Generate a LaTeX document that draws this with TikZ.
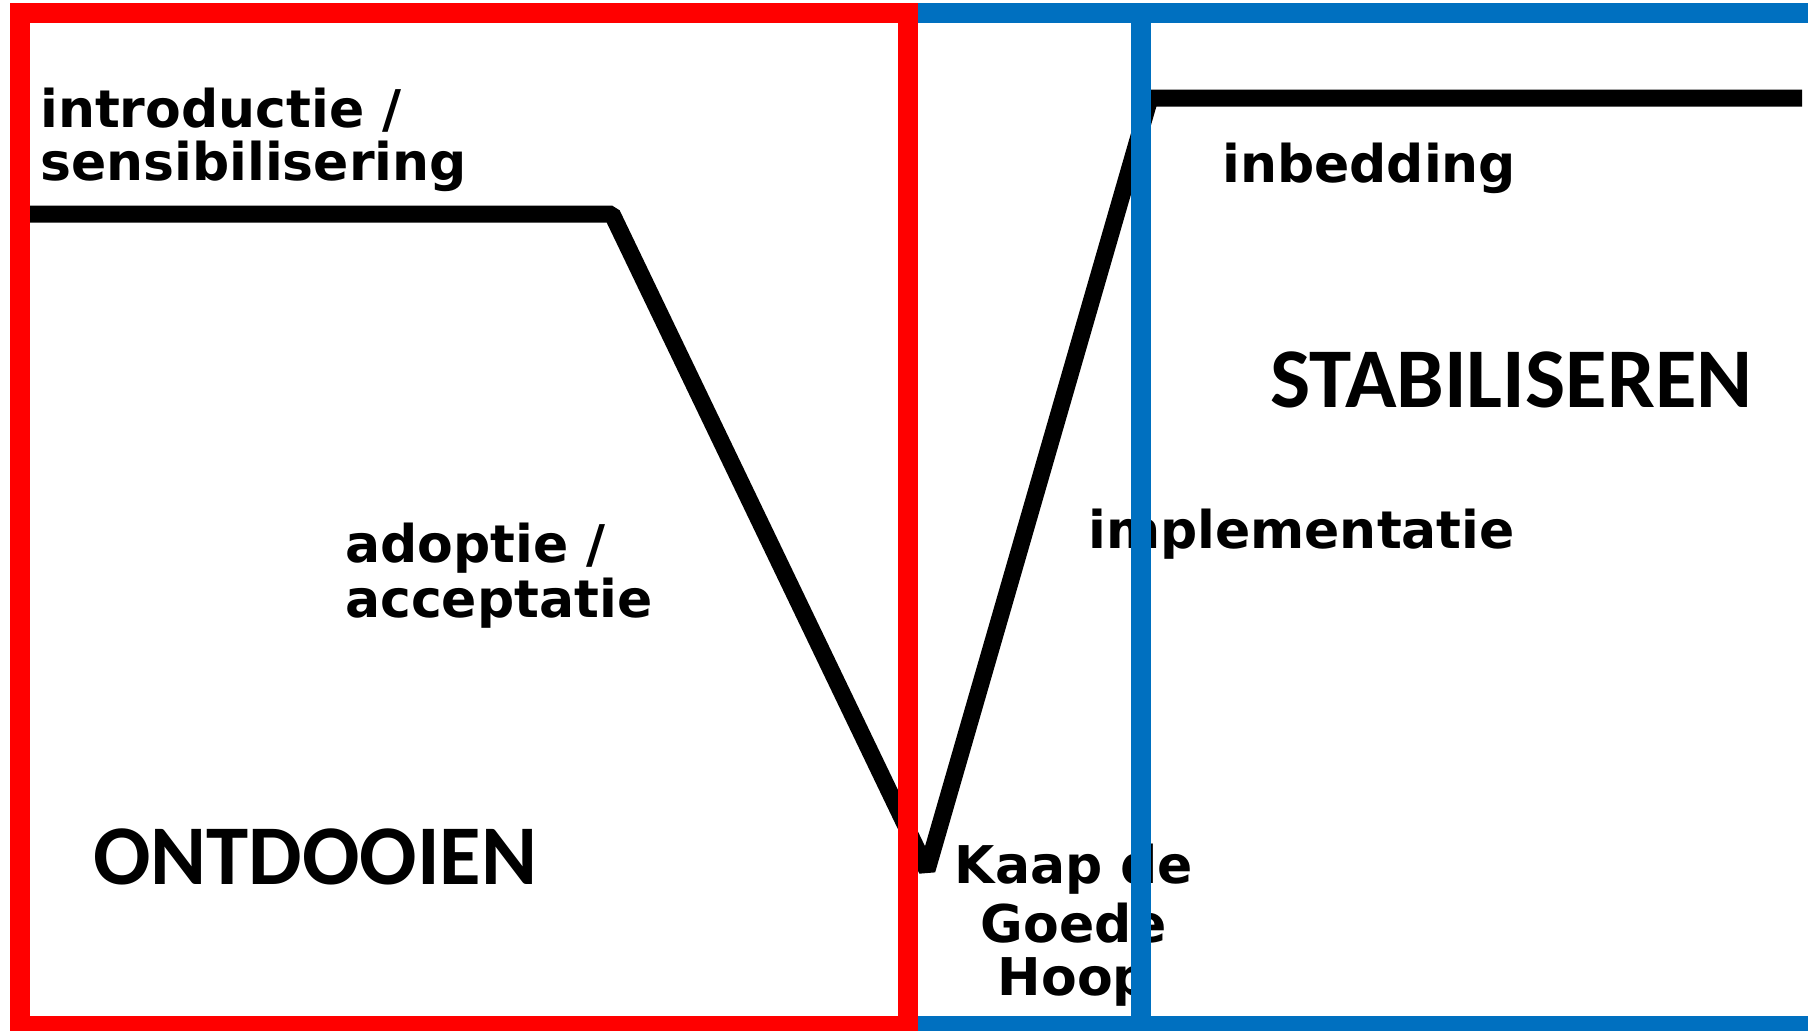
\documentclass[tikz,border=0pt]{standalone}
\usepackage{fontspec}
\newfontfamily\lblfont{DejaVu Sans}
\newfontfamily\phasefont{Carlito}
\definecolor{framered}{RGB}{255,0,0}
\definecolor{frameblue}{RGB}{0,112,192}
\begin{document}
\begin{tikzpicture}[x=1pt,y=-1pt,
  lbl/.style={font=\lblfont\bfseries\fontsize{52}{56}\selectfont, inner sep=0pt, anchor=base west},
  phase/.style={font=\phasefont\bfseries\fontsize{85}{90}\selectfont, inner sep=0pt, anchor=base west},
  curve/.style={line width=17pt, draw=black, line join=bevel},
  redframe/.style={draw=framered, line width=20pt},
  blueframe/.style={draw=frameblue, line width=20pt}]
\useasboundingbox (0,0) rectangle (1808,1031);
\clip (0,0) rectangle (1808,1031);
\fill[white] (0,0) rectangle (1808,1031);
% curve
\coordinate (a) at (30,214);
\coordinate (b) at (612,214);
\coordinate (c) at (927,870);
\coordinate (d) at (1150,98);
\coordinate (e) at (1802,98);
\draw[curve] (a) -- (b) -- (c) -- (d) -- (e);
% labels
\node[lbl] (t1) at (40,127) {introductie /};
\node[lbl] (t2) at (40,180) {sensibilisering};
\node[lbl] (t3) at (345,562) {adoptie /};
\node[lbl] (t4) at (345,617) {acceptatie};
\node[lbl] (t5) at (1088,548) {implementatie};
\node[lbl] (t6) at (1222,182) {inbedding};
\node[lbl,anchor=base] (k1) at (1074,883) {Kaap de};
\node[lbl,anchor=base] (k2) at (1074,942) {Goede};
\node[lbl,anchor=base] (k3) at (1074,995) {Hoop};
\node[phase] (p1) at (93,884) {ONTDOOIEN};
\node[phase] (p2) at (1270,407) {STABILISEREN};
% frames
\draw[blueframe] (907.5,13) rectangle (1830,1026);
\draw[blueframe] (1141,13) rectangle (1830,1026);
\draw[redframe] (20,13) rectangle (907.5,1026);
\end{tikzpicture}
\end{document}
